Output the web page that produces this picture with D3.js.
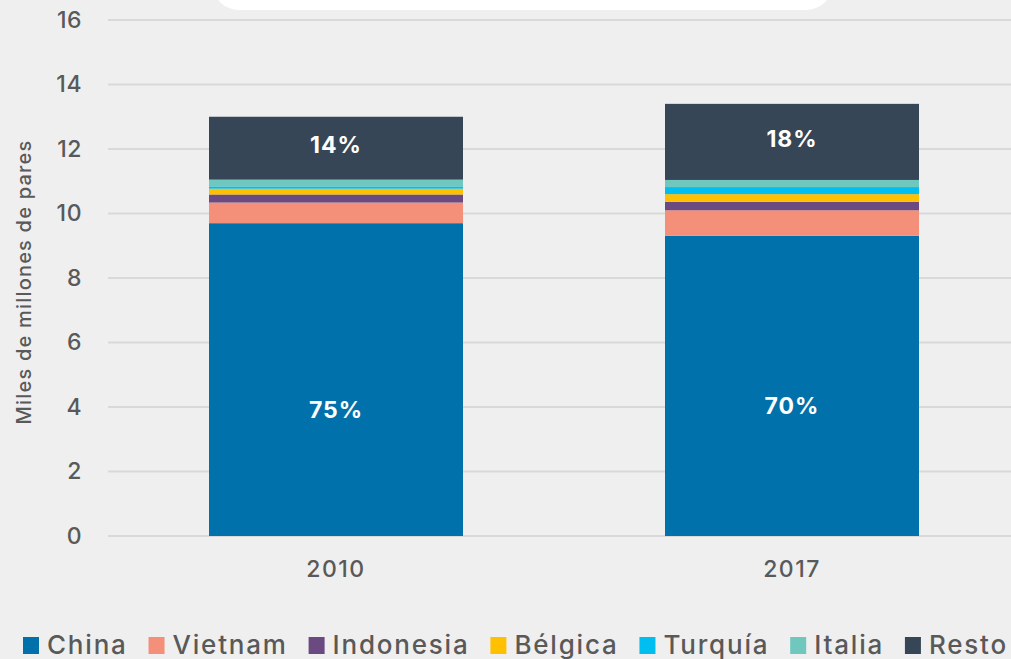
<!DOCTYPE html>
<html>
<head>
<meta charset="utf-8">
<script src="https://cdn.jsdelivr.net/npm/d3@7"></script>
<style>
  body { margin: 0; background: #efefef; }
  svg { display: block; }
  text { font-family: "Inter", "Lato", sans-serif; }
</style>
</head>
<body>
<svg></svg>
<script>
// datos (miles de millones de pares)
var years = ['2010', '2017'];
var paises = ['China', 'Vietnam', 'Indonesia', 'Bélgica', 'Turquía', 'Italia', 'Resto'];
var colores = ['#0071aa', '#f4907a', '#6a4a80', '#ffc000', '#00bef0', '#70c7be', '#374656'];
var china = [9.70, 9.31];
var vietnam = [0.64, 0.79];
var indonesia = [0.25, 0.26];
var belgica = [0.18, 0.24];
var turquia = [0.07, 0.22];
var italia = [0.21, 0.22];
var resto = [1.95, 2.36];
var pctChina = ['75%', '70%'];
var pctResto = ['14%', '18%'];
var yTicks = [0, 2, 4, 6, 8, 10, 12, 14, 16];

var w = 1011, h = 659;
var gris = '#595959';
var svg = d3.select('svg').attr('width', w).attr('height', h);

var series = [china, vietnam, indonesia, belgica, turquia, italia, resto];
var filas = years.map(function(y, i){
  var o = {year: y};
  paises.forEach(function(p, k){ o[p] = series[k][i]; });
  return o;
});
var stack = d3.stack().keys(paises)(filas);

var x = d3.scaleBand().domain(years).range([108, 1020]).paddingInner(0.443).paddingOuter(0.2215);
var y = d3.scaleLinear().domain([0, 16]).range([536, 20]);
var color = d3.scaleOrdinal().domain(paises).range(colores);

// caja blanca cortada arriba
svg.append('rect')
  .attr('x', 213).attr('y', -40).attr('width', 619).attr('height', 50)
  .attr('rx', 26).attr('fill', '#ffffff');

// rejilla
svg.append('g').selectAll('line')
  .data(yTicks)
  .enter().append('line')
  .attr('x1', 108).attr('x2', w)
  .attr('y1', function(d){ return y(d); })
  .attr('y2', function(d){ return y(d); })
  .attr('stroke', '#d9d9d9').attr('stroke-width', 2);

// eje y
var ejeY = svg.append('g')
  .attr('transform', 'translate(82,0)')
  .call(d3.axisLeft(y).tickValues(yTicks).tickSize(0).tickPadding(0));
ejeY.select('.domain').remove();
ejeY.selectAll('text')
  .attr('font-size', 23).attr('fill', gris).attr('font-weight', 500)
  .attr('letter-spacing', 0.5)
  .attr('font-family', '"Inter", "Lato", sans-serif');

// eje x
var ejeX = svg.append('g')
  .attr('transform', 'translate(0,561)')
  .call(d3.axisBottom(x).tickSize(0).tickPadding(0));
ejeX.select('.domain').remove();
ejeX.selectAll('text')
  .attr('font-size', 23).attr('fill', gris).attr('font-weight', 500)
  .attr('letter-spacing', 1.5)
  .attr('dy', '0.71em')
  .attr('font-family', '"Inter", "Lato", sans-serif');

// titulo eje y
svg.append('text')
  .attr('transform', 'translate(31,282) rotate(-90)')
  .attr('text-anchor', 'middle')
  .attr('font-size', 20).attr('fill', gris).attr('font-weight', 500)
  .attr('letter-spacing', 1.2)
  .text('Miles de millones de pares');

// barras
svg.append('g').selectAll('g')
  .data(stack)
  .enter().append('g')
  .attr('fill', function(d){ return color(d.key); })
  .selectAll('rect')
  .data(function(d){ return d; })
  .enter().append('rect')
  .attr('x', function(d){ return x(d.data.year); })
  .attr('width', x.bandwidth())
  .attr('y', function(d){ return y(d[1]); })
  .attr('height', function(d){ return y(d[0]) - y(d[1]); });

// etiquetas de porcentaje
var capaResto = stack[stack.length - 1];
years.forEach(function(yr, i){
  var tot = capaResto[i][1];
  svg.append('text')
    .attr('x', x(yr) + x.bandwidth()/2)
    .attr('y', y(tot * 0.3))
    .attr('dy', '0.35em')
    .attr('text-anchor', 'middle')
    .attr('font-size', 23).attr('font-weight', 700).attr('fill', '#ffffff')
    .attr('letter-spacing', 1)
    .text(pctChina[i]);
  svg.append('text')
    .attr('x', x(yr) + x.bandwidth()/2)
    .attr('y', y((capaResto[i][0] + capaResto[i][1]) / 2) - 3)
    .attr('dy', '0.35em')
    .attr('text-anchor', 'middle')
    .attr('font-size', 23).attr('font-weight', 700).attr('fill', '#ffffff')
    .attr('letter-spacing', 1)
    .text(pctResto[i]);
});

// leyenda: de x=23 a x=1008, base en y=654
var items = [];
var anchoTotal = 0;
paises.forEach(function(p){
  var it = svg.append('g');
  it.append('rect').attr('x', 0).attr('y', -17).attr('width', 16).attr('height', 17)
    .attr('fill', color(p));
  var t = it.append('text').attr('x', 24).attr('y', 0)
    .attr('font-size', 26).attr('fill', gris).attr('font-weight', 500)
    .attr('letter-spacing', 1.8)
    .text(p);
  var ancho = 24 + t.node().getComputedTextLength();
  items.push({g: it, ancho: ancho});
  anchoTotal += ancho;
});
var hueco = (1008 - 23 - anchoTotal) / (items.length - 1);
var cx = 23;
items.forEach(function(it){
  it.g.attr('transform', 'translate(' + cx + ',654)');
  cx += it.ancho + hueco;
});
</script>
</body>
</html>
